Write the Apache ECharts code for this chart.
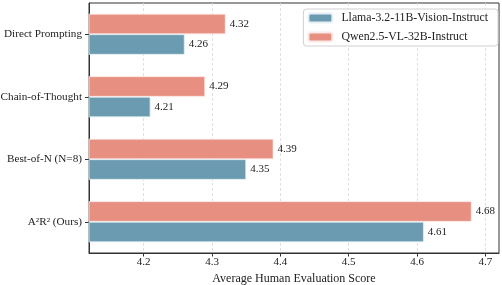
<!DOCTYPE html>
<html>
<head>
<meta charset="utf-8">
<script src="https://cdn.jsdelivr.net/npm/echarts@6/dist/echarts.min.js"></script>
<style>html,body{margin:0;padding:0;background:#fff}#c{width:502px;height:285px}</style>
</head>
<body>
<div id="c"></div>
<script>
const categories = ['Direct Prompting', 'Chain-of-Thought', 'Best-of-N (N=8)', 'A²R² (Ours)'];
const llamaName = 'Llama-3.2-11B-Vision-Instruct';
const qwenName = 'Qwen2.5-VL-32B-Instruct';
const llamaValues = [4.26, 4.21, 4.35, 4.61];
const qwenValues = [4.32, 4.29, 4.39, 4.68];
const xTicks = [4.2, 4.3, 4.4, 4.5, 4.6, 4.7];

const FONT = 'Liberation Serif';
const chart = echarts.init(document.getElementById('c'), null, {renderer: 'canvas'});
const labelOpt = {
  show: true, position: 'right', distance: 4,
  formatter: p => p.value.toFixed(2),
  fontFamily: FONT, fontSize: 11, color: '#222'
};
chart.setOption({
  animation: false,
  textStyle: {fontFamily: FONT},
  grid: {left: 89, right: 3, top: 3, bottom: 32, show: true, borderColor: '#333', borderWidth: 1,
         containLabel: false, outerBoundsMode: 'none'},
  legend: {
    orient: 'vertical', right: 4, top: 9,
    data: [llamaName, qwenName],
    itemWidth: 24, itemHeight: 9, itemGap: 7,
    backgroundColor: '#fff', borderColor: '#d0d0d0', borderWidth: 1, borderRadius: 3,
    padding: [3, 10, 3, 4],
    textStyle: {fontFamily: FONT, fontSize: 11.8, color: '#222', padding: [0, 0, 0, 4]}
  },
  xAxis: {
    type: 'value', min: 4.12, max: 4.72,
    name: 'Average Human Evaluation Score', nameLocation: 'middle', nameGap: 17,
    nameTextStyle: {fontFamily: FONT, fontSize: 12, color: '#222'},
    axisLine: {show: true, lineStyle: {color: '#333', width: 1}},
    axisTick: {show: true, length: 3.5, lineStyle: {color: '#333'}, customValues: xTicks},
    axisLabel: {customValues: xTicks, formatter: v => v.toFixed(1), fontFamily: FONT, fontSize: 11, color: '#222', margin: 4, showMinLabel: true, showMaxLabel: true},
    splitLine: {show: true, lineStyle: {color: '#d8d8d8', type: [3, 2], width: 0.8}}
  },
  yAxis: {
    type: 'category', data: categories, inverse: true,
    axisLine: {show: true, lineStyle: {color: '#333', width: 1}},
    axisTick: {show: true, alignWithLabel: true, length: 4, lineStyle: {color: '#333'}},
    axisLabel: {fontFamily: FONT, fontSize: 11.2, color: '#222', margin: 7},
    splitLine: {show: false}
  },
  series: [
    {name: qwenName, type: 'bar', data: qwenValues, barWidth: 20.5, barGap: '0%',
     itemStyle: {color: '#E78F80', borderColor: '#fdeae6', borderWidth: 0.8}, label: labelOpt},
    {name: llamaName, type: 'bar', data: llamaValues, barWidth: 20.5, barGap: '0%',
     itemStyle: {color: '#6A9BB1', borderColor: '#e6f0f4', borderWidth: 0.8}, label: labelOpt}
  ]
});
</script>
</body>
</html>
